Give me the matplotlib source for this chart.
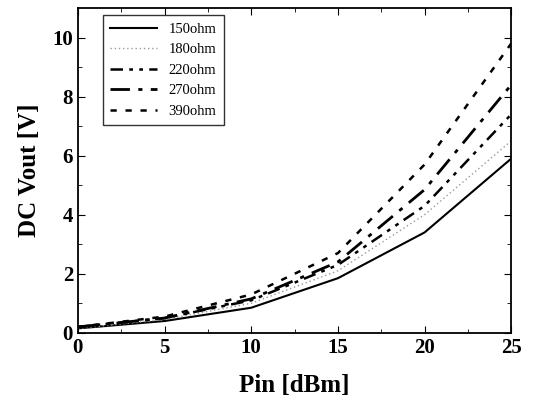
import matplotlib.pyplot as plt
import numpy as np

plt.rcParams['font.family'] = ['Liberation Serif', 'DejaVu Serif']

pin = [0, 5, 10, 15, 20, 25]
v150 = [0.15, 0.40, 0.85, 1.85, 3.4, 5.9]
v180 = [0.15, 0.45, 1.00, 2.10, 4.0, 6.5]
v220 = [0.20, 0.50, 1.10, 2.30, 4.3, 7.4]
v270 = [0.20, 0.50, 1.15, 2.40, 4.85, 8.4]
v390 = [0.20, 0.55, 1.30, 2.70, 5.7, 9.8]
labels = ["150ohm", "180ohm", "220ohm", "270ohm", "390ohm"]

fig = plt.figure(figsize=(5.41, 4.01), dpi=100)
ax = fig.add_axes([0.144, 0.170, 0.801, 0.81])

ax.plot(pin, v150, color='black', lw=1.5, ls='-', label=labels[0])
ax.plot(pin, v180, color='#999999', lw=1.0, ls=(0, (1, 2)), label=labels[1])
ax.plot(pin, v220, color='black', lw=1.8, ls=(0, (5, 2.5, 1.5, 2.5, 1.5, 2.5)), label=labels[2])
ax.plot(pin, v270, color='black', lw=2.0, ls=(0, (7, 3, 1.5, 3)), label=labels[3])
ax.plot(pin, v390, color='black', lw=1.8, ls=(0, (2.5, 3.5)), label=labels[4])

ax.set_xlim(0, 25)
ax.set_ylim(0, 11)
ax.set_xticks([0, 5, 10, 15, 20, 25])
ax.set_yticks([0, 2, 4, 6, 8, 10])
ax.set_xticks(np.arange(2.5, 25, 5), minor=True)
ax.set_yticks(np.arange(1, 11, 2), minor=True)
ax.tick_params(which='both', direction='in', top=True, right=True)
ax.tick_params(which='major', length=5, labelsize=15)
ax.tick_params(which='minor', length=3)
for lab in ax.get_xticklabels() + ax.get_yticklabels():
    lab.set_fontweight('bold')
for s in ax.spines.values():
    s.set_linewidth(1.3)

ax.set_xlabel("Pin [dBm]", fontsize=18, fontweight='bold', labelpad=12)
ax.set_ylabel("DC Vout [V]", fontsize=18, fontweight='bold', labelpad=8)

leg = ax.legend(loc='upper left', bbox_to_anchor=(0.058, 0.978), fontsize=10.5,
                frameon=True, fancybox=False, edgecolor='black', handlelength=3.2,
                borderaxespad=0, labelspacing=0.5, borderpad=0.5)
leg.get_frame().set_linewidth(1.0)

fig.savefig("out.png", dpi=100)
